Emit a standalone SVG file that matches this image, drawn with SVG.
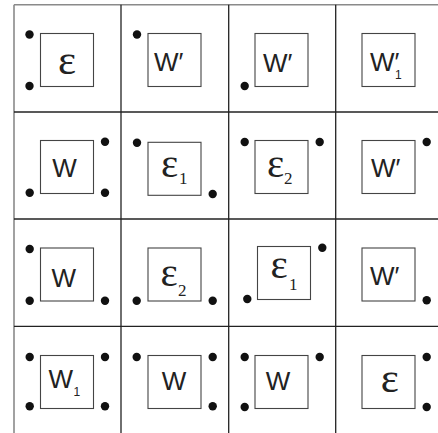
<svg xmlns="http://www.w3.org/2000/svg" width="438" height="433" viewBox="0 0 438 433">
<style>
.bg{fill:#ffffff}
.outer{stroke:#8a8a8a;stroke-width:1.6;fill:none}
.inner{stroke:#222222;stroke-width:1.3;fill:none}
.box{fill:#ffffff;stroke:#444444;stroke-width:1.1}
.dot{fill:#111111}
.w{font-family:"Liberation Sans",Arial,sans-serif;font-size:26px;fill:#222222}
.wsub{font-size:12px}
.eps{font-family:"Liberation Serif","Times New Roman",serif;font-size:43px;fill:#222222}
.eps2{font-family:"Liberation Serif","Times New Roman",serif;font-size:41px;fill:#222222}
.esub{font-size:17px}
</style>
<rect class="bg" x="0" y="0" width="438" height="433"/>
<g id="grid">
<line class="outer" x1="14" y1="4.7" x2="438" y2="4.7"/>
<line class="outer" x1="14" y1="4.7" x2="14" y2="433"/>
<line class="inner" x1="14" y1="112" x2="438" y2="112"/>
<line class="inner" x1="14" y1="219" x2="438" y2="219"/>
<line class="inner" x1="14" y1="326.3" x2="438" y2="326.3"/>
<line class="inner" x1="121" y1="4.7" x2="121" y2="433"/>
<line class="inner" x1="228.7" y1="4.7" x2="228.7" y2="433"/>
<line class="inner" x1="335.7" y1="4.7" x2="335.7" y2="433"/>
</g>
<g id="cell-r0c0">
<rect class="box" x="40.5" y="33.5" width="53" height="53"/>
<text class="eps" x="67" y="74" text-anchor="middle">ε</text>
<circle class="dot" cx="29.5" cy="34.5" r="4.2"/>
<circle class="dot" cx="29.5" cy="86" r="4.2"/>
</g>
<g id="cell-r0c1">
<rect class="box" x="148" y="33.5" width="53" height="53"/>
<text class="w" x="154" y="70.5">W′</text>
<circle class="dot" cx="137" cy="34.5" r="4.2"/>
</g>
<g id="cell-r0c2">
<rect class="box" x="255" y="33.5" width="53" height="53"/>
<text class="w" x="263" y="71.5">W′</text>
<circle class="dot" cx="244.7" cy="86" r="4.2"/>
</g>
<g id="cell-r0c3">
<rect class="box" x="362" y="33.5" width="53" height="53"/>
<text class="w" x="370" y="71">W′<tspan class="wsub" x="395" y="79">1</tspan></text>
</g>
<g id="cell-r1c0">
<rect class="box" x="40.5" y="140.5" width="53" height="53"/>
<text class="w" x="52.3" y="176.7">W</text>
<circle class="dot" cx="105" cy="141.7" r="4.2"/>
<circle class="dot" cx="29.7" cy="192.7" r="4.2"/>
<circle class="dot" cx="105" cy="192.7" r="4.2"/>
</g>
<g id="cell-r1c1">
<rect class="box" x="148" y="142.3" width="53" height="53"/>
<text class="eps2" x="161" y="177.3">ε<tspan class="esub" x="179" y="184">1</tspan></text>
<circle class="dot" cx="137" cy="142.7" r="4.2"/>
<circle class="dot" cx="212.7" cy="194" r="4.2"/>
</g>
<g id="cell-r1c2">
<rect class="box" x="255" y="140.5" width="53" height="53"/>
<text class="eps2" x="267" y="176.7">ε<tspan class="esub" x="284" y="184.3">2</tspan></text>
<circle class="dot" cx="244.7" cy="142" r="4.2"/>
<circle class="dot" cx="319.7" cy="142" r="4.2"/>
</g>
<g id="cell-r1c3">
<rect class="box" x="362" y="140.5" width="53" height="53"/>
<text class="w" x="371" y="176.7">W′</text>
<circle class="dot" cx="426.7" cy="142" r="4.2"/>
</g>
<g id="cell-r2c0">
<rect class="box" x="40.5" y="248" width="53" height="53"/>
<text class="w" x="51.5" y="287">W</text>
<circle class="dot" cx="29.7" cy="249" r="4.2"/>
<circle class="dot" cx="29.7" cy="300.7" r="4.2"/>
<circle class="dot" cx="105" cy="300.7" r="4.2"/>
</g>
<g id="cell-r2c1">
<rect class="box" x="148" y="248" width="53" height="53"/>
<text class="eps2" x="160.5" y="285.7">ε<tspan class="esub" x="178" y="295.7">2</tspan></text>
<circle class="dot" cx="136.7" cy="300.7" r="4.2"/>
<circle class="dot" cx="212.7" cy="300.7" r="4.2"/>
</g>
<g id="cell-r2c2">
<rect class="box" x="257.5" y="246.5" width="53" height="53"/>
<text class="eps2" x="270.5" y="278">ε<tspan class="esub" x="289" y="289.7">1</tspan></text>
<circle class="dot" cx="322.3" cy="247.7" r="4.2"/>
<circle class="dot" cx="247.3" cy="299" r="4.2"/>
</g>
<g id="cell-r2c3">
<rect class="box" x="362" y="248" width="53" height="53"/>
<text class="w" x="370" y="284.7">W′</text>
<circle class="dot" cx="426.7" cy="300.3" r="4.2"/>
</g>
<g id="cell-r3c0">
<rect class="box" x="40.5" y="355.5" width="53" height="53"/>
<text class="w" x="48.5" y="388">W<tspan class="wsub" x="73.5" y="396">1</tspan></text>
<circle class="dot" cx="29.7" cy="357" r="4.2"/>
<circle class="dot" cx="105" cy="357" r="4.2"/>
<circle class="dot" cx="29.7" cy="406.3" r="4.2"/>
<circle class="dot" cx="105" cy="406.3" r="4.2"/>
</g>
<g id="cell-r3c1">
<rect class="box" x="148" y="355.5" width="53" height="53"/>
<text class="w" x="161.7" y="389.7">W</text>
<circle class="dot" cx="136.7" cy="357" r="4.2"/>
<circle class="dot" cx="212.7" cy="357" r="4.2"/>
<circle class="dot" cx="212.7" cy="406.3" r="4.2"/>
</g>
<g id="cell-r3c2">
<rect class="box" x="255" y="355.5" width="53" height="53"/>
<text class="w" x="265.7" y="389.7">W</text>
<circle class="dot" cx="244.7" cy="357" r="4.2"/>
<circle class="dot" cx="319.7" cy="357" r="4.2"/>
<circle class="dot" cx="244.7" cy="407" r="4.2"/>
</g>
<g id="cell-r3c3">
<rect class="box" x="362" y="355.5" width="53" height="53"/>
<text class="eps" x="389.7" y="392" text-anchor="middle">ε</text>
<circle class="dot" cx="426.7" cy="357" r="4.2"/>
<circle class="dot" cx="426.7" cy="407" r="4.2"/>
</g>
</svg>
